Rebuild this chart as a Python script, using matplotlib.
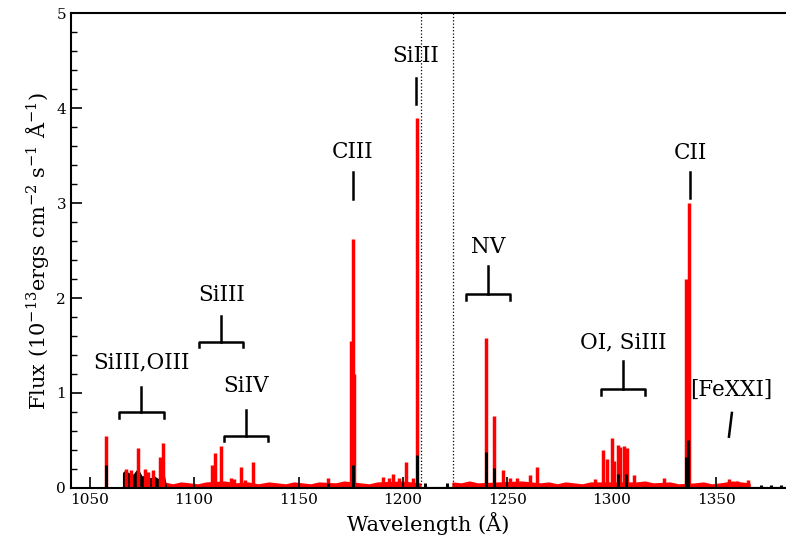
import matplotlib
matplotlib.use("Agg")
from matplotlib import pyplot as plt
from matplotlib.ticker import MultipleLocator
import numpy as np

plt.rcParams['font.family'] = ['DejaVu Serif']
plt.rcParams['mathtext.fontset'] = 'dejavuserif'

# Emisní čáry - červené spektrum (vlnová délka, tok)
red_wl = [1058.0, 1067.5, 1070.0, 1073.0, 1076.5, 1078.0, 1080.5, 1083.5, 1085.0,
          1108.5, 1110.0, 1113.0, 1117.5, 1119.0, 1122.5, 1124.5, 1128.0,
          1164.0, 1175.3, 1176.0, 1176.7, 1190.5, 1193.5, 1195.0, 1198.0,
          1201.5, 1205.0, 1206.5, 1239.7, 1243.5, 1248.0, 1251.0, 1254.5,
          1261.0, 1264.0, 1292.0, 1295.7, 1297.6, 1300.0, 1301.2, 1302.8,
          1304.0, 1305.7, 1307.0, 1310.5, 1325.0, 1335.6, 1336.9, 1356.0,
          1360.0, 1365.0]
red_flux = [0.55, 0.20, 0.19, 0.42, 0.20, 0.17, 0.19, 0.33, 0.47,
            0.24, 0.37, 0.44, 0.10, 0.09, 0.22, 0.08, 0.27,
            0.10, 1.55, 2.62, 1.20, 0.12, 0.10, 0.15, 0.10,
            0.27, 0.10, 3.90, 1.58, 0.76, 0.19, 0.10, 0.10,
            0.14, 0.22, 0.09, 0.40, 0.30, 0.53, 0.28, 0.45,
            0.43, 0.44, 0.42, 0.14, 0.11, 2.20, 3.00, 0.09,
            0.07, 0.08]

# Kontinuum - červené
red_cont_wl = [1086, 1090, 1094, 1098, 1102, 1106, 1115, 1120, 1126, 1131, 1136,
               1140, 1144, 1148, 1152, 1156, 1160, 1168, 1172, 1180, 1184,
               1188, 1200, 1204, 1208.5, np.nan,
               1224, 1228, 1232, 1236, 1246, 1257, 1266, 1270, 1274, 1278,
               1282, 1286, 1290, 1312, 1316, 1320, 1328, 1332, 1340, 1344,
               1348, 1352, 1358, 1362, 1366]
red_cont = [0.05, 0.03, 0.05, 0.04, 0.03, 0.05, 0.06, 0.04, 0.05, 0.03, 0.05,
            0.04, 0.03, 0.05, 0.04, 0.03, 0.05, 0.04, 0.06, 0.04, 0.03,
            0.05, 0.06, 0.05, 0.04, np.nan,
            0.05, 0.04, 0.06, 0.04, 0.05, 0.06, 0.04, 0.05, 0.03, 0.05,
            0.04, 0.03, 0.05, 0.05, 0.06, 0.04, 0.05, 0.03, 0.04, 0.05,
            0.03, 0.04, 0.06, 0.05, 0.04]

# Černé spektrum
black_wl = [1058.0, 1164.0, 1176.0, 1206.5, 1210.5, 1221.0, 1239.7, 1243.5,
            1303.0, 1306.5, 1335.6, 1336.5, 1371.5, 1376.0, 1381.0]
black_flux = [0.24, 0.05, 0.24, 0.35, 0.05, 0.05, 0.38, 0.21,
              0.15, 0.15, 0.33, 0.50, 0.03, 0.03, 0.03]

hump_wl = [1066, 1067, 1069, 1071, 1073, 1075, 1077, 1079, 1081, 1083, 1085, 1086.5]
hump_flux = [0.16, 0.18, 0.15, 0.14, 0.20, 0.12, 0.13, 0.10, 0.12, 0.09, 0.20, 0.02]

black_cont_wl = [1086.5, 1383]
black_cont = [0.015, 0.015]

# Značky čar: text, poloha, závorka
labels = ['SiIII,OIII', 'SiIII', 'SiIV', 'NV', 'OI, SiIII']
lab_x = [1074.6, 1113.0, 1124.9, 1240.7, 1305.3]
lab_y = [1.32, 2.03, 1.07, 2.54, 1.53]
br_left = [1064.0, 1102.4, 1114.4, 1230.0, 1294.7]
br_right = [1085.6, 1123.4, 1135.4, 1251.0, 1315.8]
br_y = [0.80, 1.54, 0.55, 2.04, 1.04]
stem_top = [1.06, 1.81, 0.82, 2.34, 1.34]

single = ['CIII', 'SiIII', 'CII']
single_x = [1176.0, 1206.2, 1337.3]
single_y = [3.54, 4.55, 3.53]
tick_top = [3.33, 4.32, 3.33]
tick_bot = [3.04, 4.04, 3.05]

fig = plt.figure(figsize=(7.86, 5.44), dpi=100)
ax = fig.add_axes([0.0903, 0.103, 0.9097, 0.873])

ax.fill_between(red_cont_wl, 0, red_cont, color='red', lw=1.2)
ax.vlines(red_wl, 0, red_flux, color='red', lw=2.5)
ax.fill_between(black_cont_wl, 0, black_cont, color='black', lw=0.8)
ax.fill_between(hump_wl, 0, hump_flux, color='black', lw=0.8)
ax.vlines(black_wl, 0, black_flux, color='black', lw=2.2)

for x in [1208.5, 1224.0]:
    ax.axvline(x, color='black', ls=':', lw=0.9)

d = 0.06
for t, x, y, l, r, b, s in zip(labels, lab_x, lab_y, br_left, br_right, br_y, stem_top):
    ax.text(x, y, t, ha='center', va='center', fontsize=15.5)
    ax.plot([l, l, r, r], [b - d, b, b, b - d], color='black', lw=1.8)
    ax.plot([(l + r) / 2, (l + r) / 2], [b, s], color='black', lw=1.8)

for t, x, y, a, b in zip(single, single_x, single_y, tick_top, tick_bot):
    ax.text(x, y, t, ha='center', va='center', fontsize=15.5)
    ax.plot([x, x], [a, b], color='black', lw=1.8)

ax.text(1357, 1.03, '[FeXXI]', ha='center', va='center', fontsize=15.5)
ax.plot([1357.4, 1356.0], [0.79, 0.54], color='black', lw=1.8)

ax.set_xlim(1041.1, 1383.3)
ax.set_ylim(0, 5)
ax.xaxis.set_major_locator(MultipleLocator(50))
ax.yaxis.set_major_locator(MultipleLocator(1))
ax.yaxis.set_minor_locator(MultipleLocator(0.2))
ax.tick_params(direction='in', which='major', length=8, width=1.2, labelsize=11)
ax.tick_params(direction='in', which='minor', length=4, width=1.0)
ax.spines['right'].set_visible(False)
for s in ['left', 'bottom', 'top']:
    ax.spines[s].set_linewidth(1.5)

ax.set_xlabel('Wavelength (Å)', fontsize=15)
ax.set_ylabel('Flux ($10^{-13}$ergs cm$^{-2}$ s$^{-1}$ Å$^{-1}$)', fontsize=15)

fig.savefig('out.png', dpi=100)
